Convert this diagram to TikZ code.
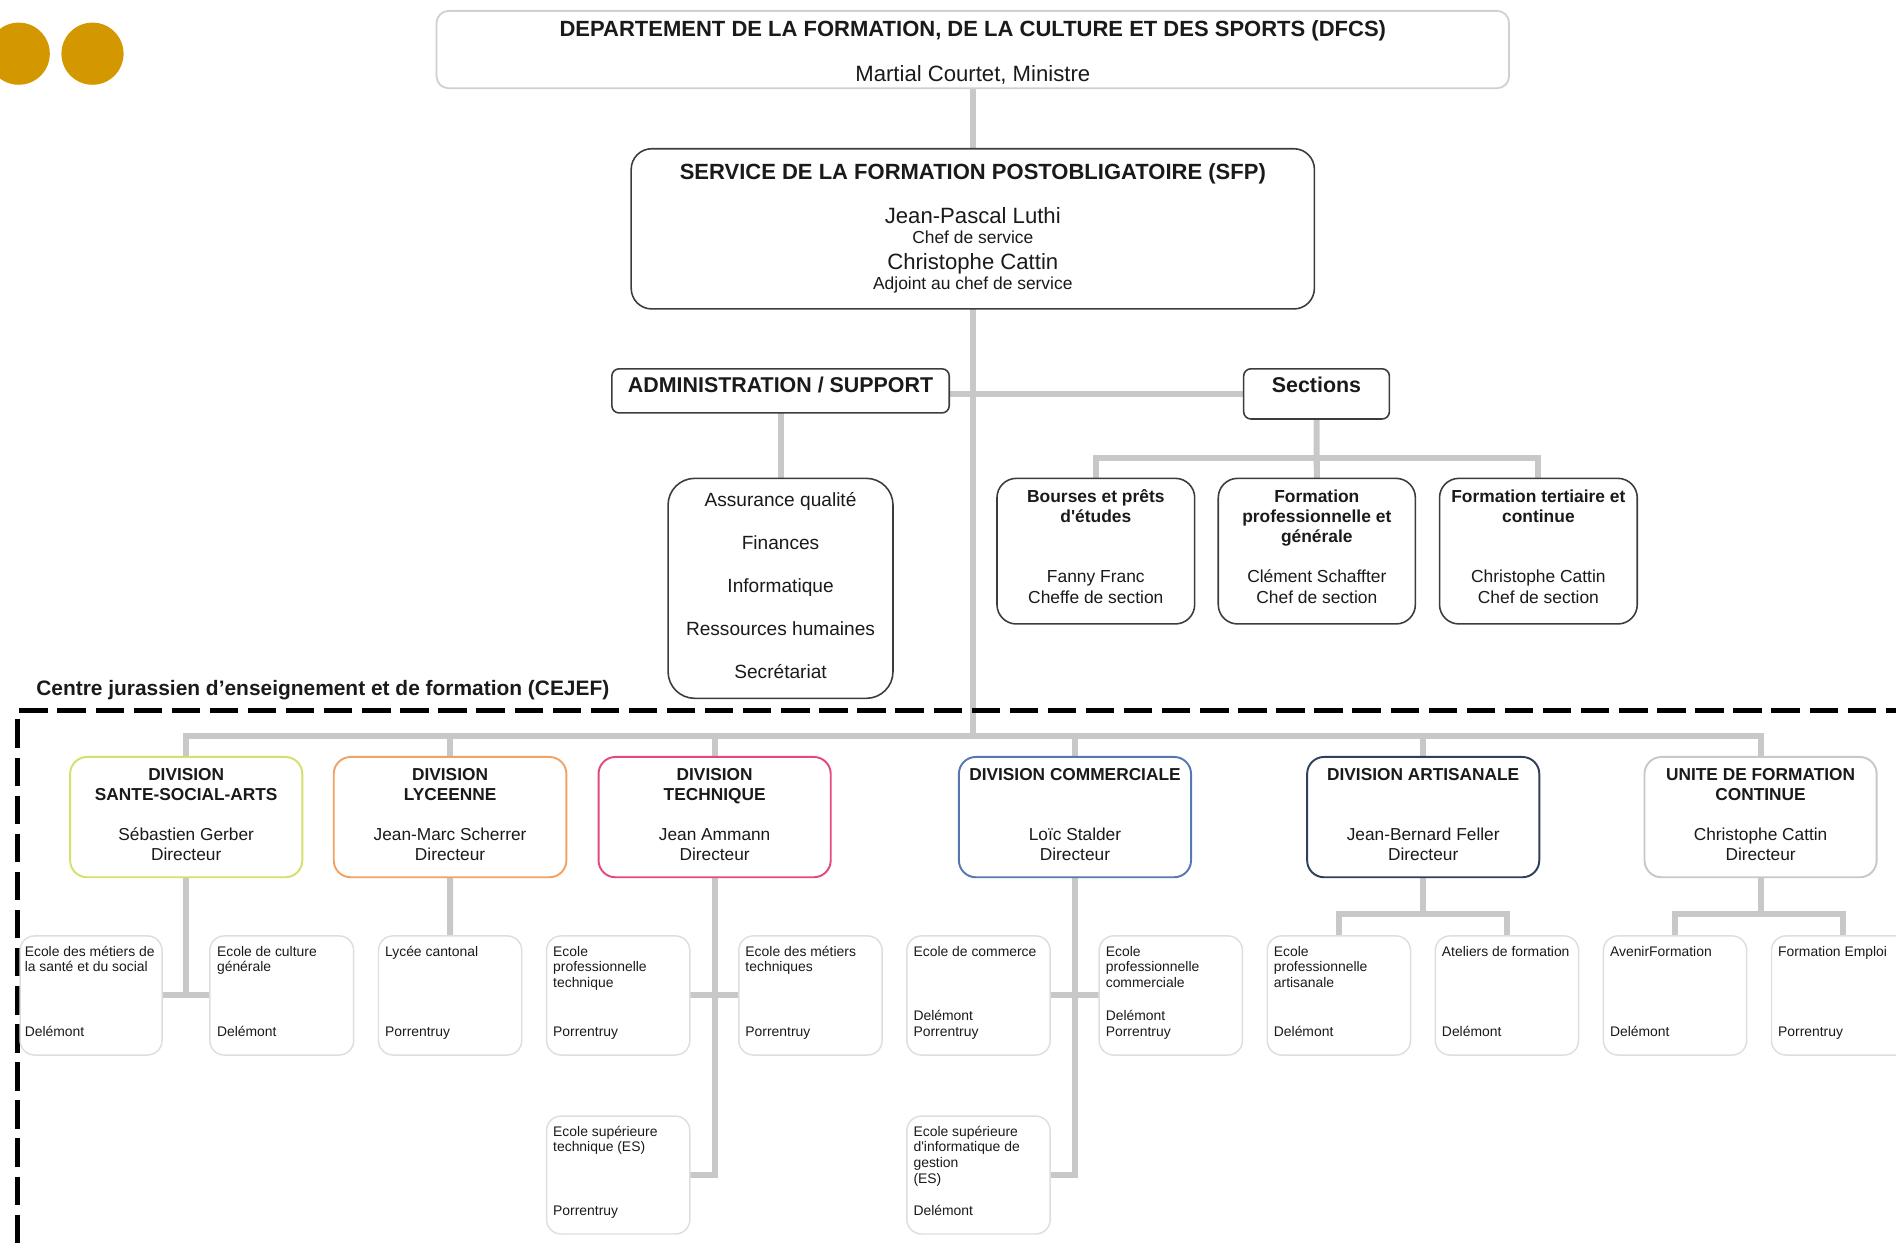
\documentclass[tikz,border=0pt]{standalone}
\usepackage{fontspec}
\setmainfont{Liberation Sans}
\usetikzlibrary{backgrounds}
\definecolor{goldc}{HTML}{D39800}
\definecolor{lgrey}{HTML}{C8C8C8}
\definecolor{dgrey}{HTML}{3C3C3C}
\definecolor{tgrey}{HTML}{D0D0D0}
\definecolor{sgrey}{HTML}{DEDEDE}
\definecolor{txt}{HTML}{1A1A1A}
\definecolor{cA}{HTML}{D5DF6C}
\definecolor{cB}{HTML}{F4A261}
\definecolor{cC}{HTML}{E4497D}
\definecolor{cD}{HTML}{5677B0}
\definecolor{cE}{HTML}{2F3F5C}
\definecolor{cF}{HTML}{C8C8C8}
\newcommand\mkbx[6]{\node[#6, minimum width={#4pt-#2pt}, minimum height={#5pt-#3pt}] (#1) at ({(#2+#4)/2},{(#3+#5)/2}) {};}
\newcommand\tstrut{\rule{0pt}{0.75em}}
\newcommand\fTitle{\fontsize{18.2}{21}\selectfont\bfseries}
\newcommand\fBig{\fontsize{18.3}{21}\selectfont}
\newcommand\fMid{\fontsize{14.4}{16.6}\selectfont}
\newcommand\fAdm{\fontsize{17.7}{20}\selectfont\bfseries}
\newcommand\fList{\fontsize{15.8}{35.6}\selectfont}
\newcommand\fDiv{\fontsize{14.3}{16.6}\selectfont}
\newcommand\fSch{\fontsize{11.5}{13}\selectfont}
\newcommand\fCej{\fontsize{17.3}{20}\selectfont\bfseries}
\tikzset{
  conn/.style={draw=lgrey, line width=5pt},
  boxbase/.style={rectangle, inner sep=0pt, outer sep=0pt, fill=white},
  topbox/.style={boxbase, draw=tgrey, line width=1.5pt, rounded corners=10pt},
  darkbox/.style={boxbase, draw=dgrey, line width=1.3pt},
  divbox/.style={boxbase, draw=#1, line width=1.6pt, rounded corners=14pt},
  school/.style={boxbase, draw=sgrey, line width=1.2pt, rounded corners=12pt},
  tx/.style={inner sep=0pt, outer sep=0pt, text=txt},
  dashline/.style={draw=black, line width=4pt, dash pattern=on 23.5pt off 8pt},
  dot/.style={circle, fill=goldc, inner sep=0pt, outer sep=0pt, minimum size=51.4pt}
}
\begin{document}
\begin{tikzpicture}[x=1pt,y=-1pt]
\path[use as bounding box] (0,0) rectangle (1568,1031);
\clip (0,0) rectangle (1568,1031);

% golden dots
\node[dot] (dot1) at (15.5,44.4) {};
\node[dot] (dot2) at (76.5,44.4) {};

% DFCS
\mkbx{dfcs}{361}{9}{1248}{73}{topbox}
\node[tx, anchor=base, font=\fTitle] (dfcs-t) at (804.5,30.3) {DEPARTEMENT DE LA FORMATION, DE LA CULTURE ET DES SPORTS (DFCS)};
\node[tx, anchor=base, font=\fBig] (dfcs-n) at (804.5,67.5) {Martial Courtet, Ministre};

% SFP
\mkbx{sfp}{522}{123}{1087}{255.5}{darkbox, rounded corners=17pt}
\node[tx, anchor=base, font=\fTitle] (sfp-t) at (804.5,148.5) {SERVICE DE LA FORMATION POSTOBLIGATOIRE (SFP)};
\node[tx, anchor=base, font=\fBig] (sfp-n1) at (804.5,184.7) {Jean-Pascal Luthi};
\node[tx, anchor=base, font=\fMid] (sfp-r1) at (804.5,201.5) {Chef de service};
\node[tx, anchor=base, font=\fBig] (sfp-n2) at (804.5,222.7) {Christophe Cattin};
\node[tx, anchor=base, font=\fMid] (sfp-r2) at (804.5,239) {Adjoint au chef de service};

% Administration / support
\mkbx{admin}{506}{305}{785}{341.5}{darkbox, rounded corners=6pt}
\node[tx, anchor=base, font=\fAdm] (admin-t) at (645.5,324.7) {ADMINISTRATION / SUPPORT};
\mkbx{alist}{552.5}{395.6}{738.5}{577.5}{darkbox, rounded corners=22pt}
\node[tx, anchor=north, align=center, font=\fList] (alist-t) at (645.5,407.2)
  {\tstrut Assurance qualité\\Finances\\Informatique\\Ressources humaines\\Secrétariat};

% Sections
\mkbx{sections}{1028.5}{305}{1149}{346.5}{darkbox, rounded corners=6pt}
\node[tx, anchor=base, font=\fAdm] (sections-t) at (1088.75,324.7) {Sections};
\mkbx{s1}{824.5}{395.6}{988}{516}{darkbox, rounded corners=16pt}
\mkbx{s2}{1007.5}{395.6}{1170.5}{516}{darkbox, rounded corners=16pt}
\mkbx{s3}{1190.5}{395.6}{1354}{516}{darkbox, rounded corners=16pt}
\node[tx, anchor=north, align=center, font=\fMid] (s1-t) at (906.25,404.9)
  {\tstrut\bfseries Bourses et prêts\\\bfseries d\textquotesingle études\\[33.2pt]Fanny Franc\\Cheffe de section};
\node[tx, anchor=north, align=center, font=\fMid] (s2-t) at (1089,404.9)
  {\tstrut\bfseries Formation\\\bfseries professionnelle et\\\bfseries générale\\[16.6pt]Clément Schaffter\\Chef de section};
\node[tx, anchor=north, align=center, font=\fMid] (s3-t) at (1272.25,404.9)
  {\tstrut\bfseries Formation tertiaire et\\\bfseries continue\\[33.2pt]Christophe Cattin\\Chef de section};

% CEJEF frame
\node[tx, anchor=base west, font=\fCej] (cejef) at (30,574.8) {Centre jurassien d’enseignement et de formation (CEJEF)};
\draw[dashline] (16,587.8) -- (1575,587.8);
\draw[dashline] (14.3,595) -- (14.3,1040);

% Divisions
\mkbx{d1}{58}{626}{250}{725.5}{divbox=cA}
\mkbx{d2}{276}{626}{468.4}{725.5}{divbox=cB}
\mkbx{d3}{495}{626}{687}{725.5}{divbox=cC}
\mkbx{d4}{793}{626}{985}{725.5}{divbox=cD}
\mkbx{d5}{1081}{626}{1273}{725.5}{divbox=cE}
\mkbx{d6}{1360}{626}{1552}{725.5}{divbox=cF}
\node[tx, anchor=north, align=center, font=\fDiv] (d1-t) at (154,634.9)
  {\tstrut\bfseries DIVISION\\\bfseries SANTE-SOCIAL-ARTS\\[16.6pt]Sébastien Gerber\\Directeur};
\node[tx, anchor=north, align=center, font=\fDiv] (d2-t) at (372.2,634.9)
  {\tstrut\bfseries DIVISION\\\bfseries LYCEENNE\\[16.6pt]Jean-Marc Scherrer\\Directeur};
\node[tx, anchor=north, align=center, font=\fDiv] (d3-t) at (591,634.9)
  {\tstrut\bfseries DIVISION\\\bfseries TECHNIQUE\\[16.6pt]Jean Ammann\\Directeur};
\node[tx, anchor=north, align=center, font=\fDiv] (d4-t) at (889,634.9)
  {\tstrut\bfseries DIVISION COMMERCIALE\\[33.2pt]Loïc Stalder\\Directeur};
\node[tx, anchor=north, align=center, font=\fDiv] (d5-t) at (1177,634.9)
  {\tstrut\bfseries DIVISION ARTISANALE\\[33.2pt]Jean-Bernard Feller\\Directeur};
\node[tx, anchor=north, align=center, font=\fDiv] (d6-t) at (1456,634.9)
  {\tstrut\bfseries UNITE DE FORMATION\\\bfseries CONTINUE\\[16.6pt]Christophe Cattin\\Directeur};

% Schools row 1
\mkbx{sante}{16.6}{774}{134}{872.5}{school}
\mkbx{ecg}{173.5}{774}{292.5}{872.5}{school}
\mkbx{lycee}{313}{774}{431.5}{872.5}{school}
\mkbx{ept}{452}{774}{570.5}{872.5}{school}
\mkbx{emt}{611}{774}{729.5}{872.5}{school}
\mkbx{ecom}{750}{774}{868.5}{872.5}{school}
\mkbx{epc}{909}{774}{1027.5}{872.5}{school}
\mkbx{epa}{1048}{774}{1166.5}{872.5}{school}
\mkbx{ateliers}{1187}{774}{1305.5}{872.5}{school}
\mkbx{avenir}{1326}{774}{1444.5}{872.5}{school}
\mkbx{femploi}{1465}{774}{1583.5}{872.5}{school}
% Schools row 2
\mkbx{est}{452}{923}{570.5}{1020.5}{school}
\mkbx{esig}{750}{923}{868.5}{1020.5}{school}

% school texts
\tikzset{stitle/.style={tx, anchor=north west, align=left, font=\fSch},
         sloc/.style={tx, anchor=base west, font=\fSch},
         sloc2/.style={tx, anchor=north west, align=left, font=\fSch}}
\node[stitle] (sante-t) at (20.5,782) {\tstrut Ecole des métiers de\\la santé et du social};
\node[sloc] (sante-l) at (20.5,857.3) {Delémont};
\node[stitle] (ecg-t) at (179.5,782) {\tstrut Ecole de culture\\générale};
\node[sloc] (ecg-l) at (179.5,857.3) {Delémont};
\node[stitle] (lycee-t) at (318.5,782) {\tstrut Lycée cantonal};
\node[sloc] (lycee-l) at (318.5,857.3) {Porrentruy};
\node[stitle] (ept-t) at (457.5,782) {\tstrut Ecole\\professionnelle\\technique};
\node[sloc] (ept-l) at (457.5,857.3) {Porrentruy};
\node[stitle] (emt-t) at (616.5,782) {\tstrut Ecole des métiers\\techniques};
\node[sloc] (emt-l) at (616.5,857.3) {Porrentruy};
\node[stitle] (ecom-t) at (755.5,782) {\tstrut Ecole de commerce};
\node[sloc2] (ecom-l) at (755.5,835.7) {\tstrut Delémont\\Porrentruy};
\node[stitle] (epc-t) at (914.5,782) {\tstrut Ecole\\professionnelle\\commerciale};
\node[sloc2] (epc-l) at (914.5,835.7) {\tstrut Delémont\\Porrentruy};
\node[stitle] (epa-t) at (1053.5,782) {\tstrut Ecole\\professionnelle\\artisanale};
\node[sloc] (epa-l) at (1053.5,857.3) {Delémont};
\node[stitle] (ateliers-t) at (1192.5,782) {\tstrut Ateliers de formation};
\node[sloc] (ateliers-l) at (1192.5,857.3) {Delémont};
\node[stitle] (avenir-t) at (1331.5,782) {\tstrut AvenirFormation};
\node[sloc] (avenir-l) at (1331.5,857.3) {Delémont};
\node[stitle] (femploi-t) at (1470.5,782) {\tstrut Formation Emploi};
\node[sloc] (femploi-l) at (1470.5,857.3) {Porrentruy};
\node[stitle] (est-t) at (457.5,931) {\tstrut Ecole supérieure\\technique (ES)};
\node[sloc] (est-l) at (457.5,1005) {Porrentruy};
\node[stitle] (esig-t) at (755.5,931) {\tstrut Ecole supérieure\\d\textquotesingle informatique de\\gestion\\(ES)};
\node[sloc] (esig-l) at (755.5,1005) {Delémont};

\coordinate (trunk) at (804.5,609);

\begin{scope}[on background layer]
  \draw[conn] (dfcs.south) -- (sfp.north);
  \draw[conn] (sfp.south) -- (trunk);
  \draw[conn] (admin.east |- sections.west) -- (sections.west);
  \draw[conn] (admin.south) -- (alist.north);
  \draw[conn] (sections.south) -- (s2.north);
  \draw[conn] (s1.north) -- ++(0,-17) -| (s3.north);
  \draw[conn] (d1.north) -- ++(0,-17) -| (d6.north);
  \foreach \d in {d2,d3,d4,d5} { \draw[conn] (\d.north) -- ++(0,-17); }
  \draw[conn] (d1.south) -- (d1.south |- sante.east);
  \draw[conn] (sante.east) -- (ecg.west);
  \draw[conn] (d2.south) -- (lycee.north);
  \draw[conn] (d3.south) |- (est.east);
  \draw[conn] (ept.east) -- (emt.west);
  \draw[conn] (d4.south) |- (esig.east);
  \draw[conn] (ecom.east) -- (epc.west);
  \draw[conn] (d5.south) -- ++(0,31);
  \draw[conn] (epa.north) -- ++(0,-18) -| (ateliers.north);
  \draw[conn] (d6.south) -- ++(0,31);
  \draw[conn] (avenir.north) -- ++(0,-18) -| (femploi.north);
\end{scope}
\end{tikzpicture}
\end{document}
